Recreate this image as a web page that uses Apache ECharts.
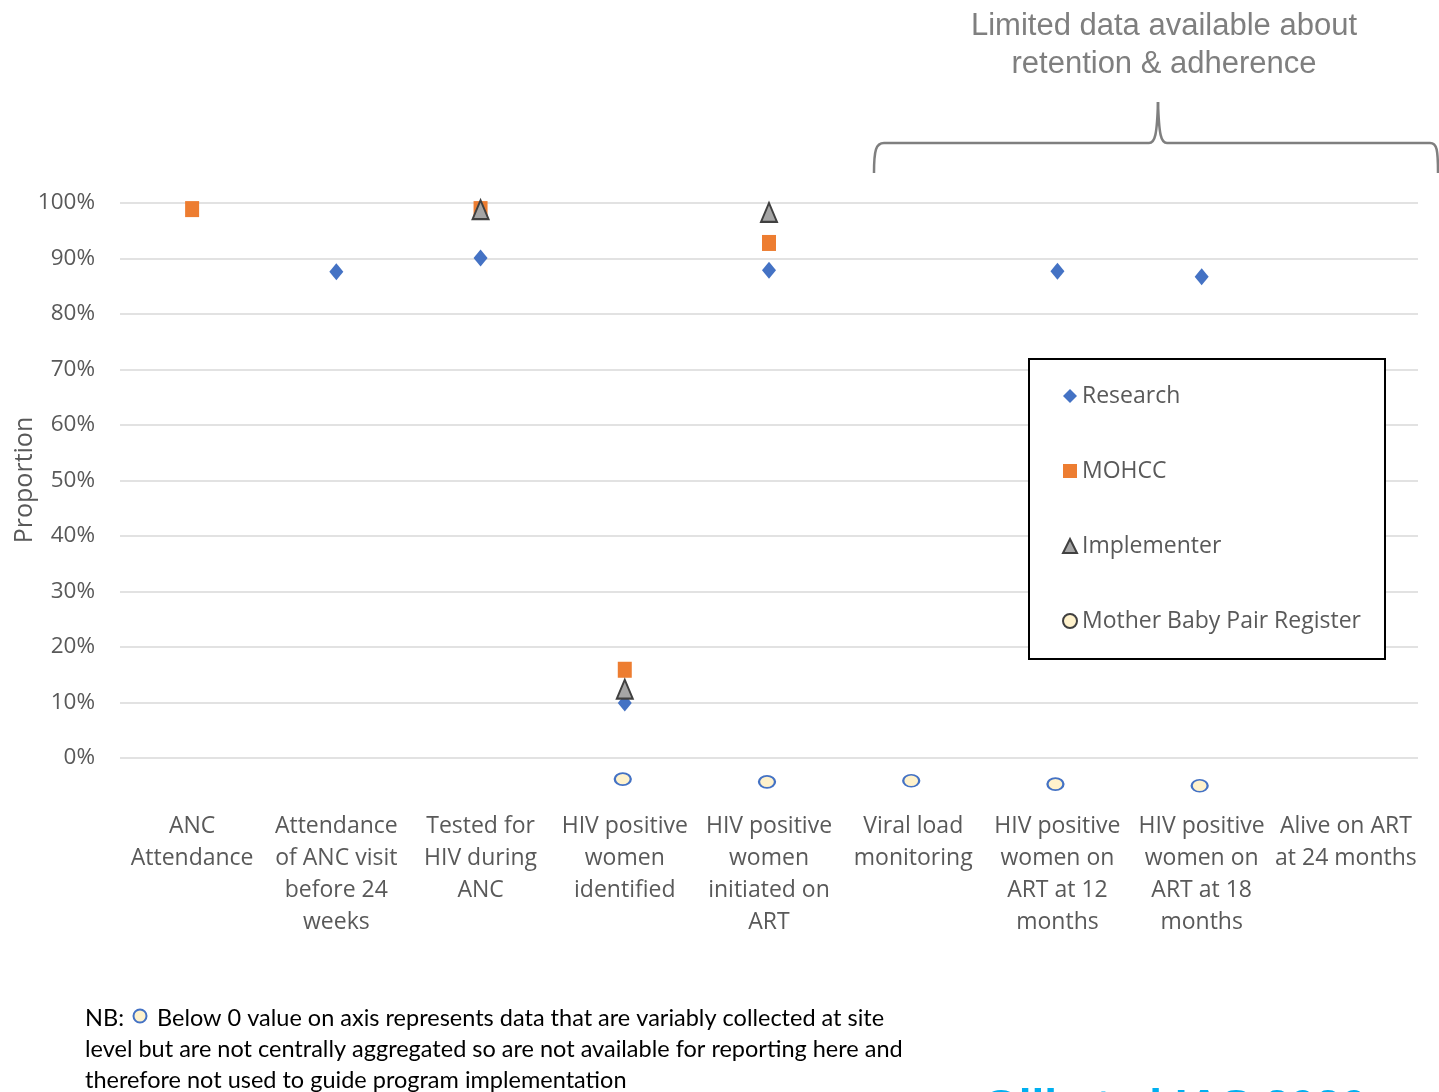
<!DOCTYPE html>
<html>
<head>
<meta charset="utf-8">
<script src="https://cdn.jsdelivr.net/npm/echarts@6/dist/echarts.min.js"></script>
<style>
  html, body { margin: 0; padding: 0; background: #ffffff; }
  #chart { width: 1439px; height: 1092px; }
</style>
</head>
<body>
<div id="chart"></div>
<script>
// PMTCT cascade steps (x axis)
const categories = [
  'ANC\nAttendance',
  'Attendance\nof ANC visit\nbefore 24\nweeks',
  'Tested for\nHIV during\nANC',
  'HIV positive\nwomen\nidentified',
  'HIV positive\nwomen\ninitiated on\nART',
  'Viral load\nmonitoring',
  'HIV positive\nwomen on\nART at 12\nmonths',
  'HIV positive\nwomen on\nART at 18\nmonths',
  'Alive on ART\nat 24 months'
];

// Proportions (%) by data source; below-zero values flag data not centrally aggregated
const research    = [null, 87.6, 90.1, 9.9, 87.9, null, 87.7, 86.7, null];
const mohcc       = [98.9, null, 98.9, 15.9, 92.8, null, null, null, null];
const implementer = [null, null, 98.8, 12.4, 98.3, null, null, null, null];
const mbpr        = [null, null, null, -3.8, -4.3, -4.1, -4.7, -5.0, null];

const yTicks = [-10, 0, 10, 20, 30, 40, 50, 60, 70, 80, 90, 100];

const FONT = 'Open Sans';
const GREY_TEXT = '#595959';

const chart = echarts.init(document.getElementById('chart'), null, { renderer: 'canvas' });

// grid line colours: hide the line at the lowest (-10) tick
const gridColors = yTicks.map(v => v < 0 ? 'rgba(0,0,0,0)' : '#d9d9d9');

const braceStyle = { fill: 'none', stroke: '#7f7f7f', lineWidth: 2.5 };
const curve = (x1, y1, cpx1, cpy1, cpx2, cpy2, x2, y2) => ({
  type: 'bezierCurve',
  shape: { x1, y1, cpx1, cpy1, cpx2, cpy2, x2, y2 },
  style: braceStyle
});
const seg = (x1, y1, x2, y2) => ({ type: 'line', shape: { x1, y1, x2, y2 }, style: braceStyle });

const NOTE_FONT = { fontFamily: 'Lato', fontSize: 23.5, fill: '#000000' };

chart.setOption({
  animation: false,
  backgroundColor: '#ffffff',
  grid: { left: 120, right: 21, top: 203, bottom: 278.5, containLabel: false },
  xAxis: {
    type: 'category',
    data: categories,
    boundaryGap: true,
    axisLine: { show: false },
    axisTick: { show: false },
    axisLabel: {
      interval: 0,
      margin: -3,
      fontFamily: FONT,
      fontSize: 23,
      lineHeight: 32,
      color: GREY_TEXT,
      align: 'center',
      verticalAlign: 'top'
    }
  },
  yAxis: {
    type: 'value',
    min: -10,
    max: 100,
    interval: 10,
    axisLine: { show: false },
    axisTick: { show: false },
    axisLabel: {
      margin: 25,
      fontFamily: FONT,
      fontSize: 22.5,
      color: GREY_TEXT,
      formatter: v => (v < 0 ? '' : v + '%')
    },
    splitLine: { show: true, lineStyle: { color: gridColors, width: 1.5 } }
  },
  legend: {
    orient: 'vertical',
    left: 1029,
    top: 359,
    padding: [25, 24, 26, 33],
    itemGap: 51,
    itemWidth: 14,
    itemHeight: 14,
    borderColor: '#000000',
    borderWidth: 2,
    backgroundColor: '#ffffff',
    textStyle: { fontFamily: FONT, fontSize: 23, lineHeight: 24, color: GREY_TEXT },
    data: [
      { name: 'Research', icon: 'diamond', itemStyle: { color: '#4472c4', borderWidth: 0 } },
      { name: 'MOHCC', icon: 'rect', itemStyle: { color: '#ed7d31', borderWidth: 0 } },
      { name: 'Implementer', icon: 'triangle', itemStyle: { color: '#a5a5a5', borderColor: '#404040', borderWidth: 2 } },
      { name: 'Mother Baby Pair Register', icon: 'circle', itemStyle: { color: '#fff2cc', borderColor: '#404040', borderWidth: 2 } }
    ]
  },
  series: [
    {
      name: 'Research', type: 'scatter', data: research,
      symbol: 'diamond', symbolSize: [14, 17],
      itemStyle: { color: '#4472c4', opacity: 1 }
    },
    {
      name: 'MOHCC', type: 'scatter', data: mohcc,
      symbol: 'rect', symbolSize: [14, 16],
      itemStyle: { color: '#ed7d31', opacity: 1 }
    },
    {
      name: 'Implementer', type: 'scatter', data: implementer,
      symbol: 'triangle', symbolSize: [16, 19],
      itemStyle: { color: '#a5a5a5', borderColor: '#404040', borderWidth: 2, opacity: 1 }
    },
    {
      name: 'Mother Baby Pair Register', type: 'scatter', data: mbpr,
      symbol: 'circle', symbolSize: [16, 12], symbolOffset: [-2, 0],
      itemStyle: { color: '#fff2cc', borderColor: '#4472c4', borderWidth: 2, opacity: 1 }
    }
  ],
  graphic: [
    // y axis title, centred on the 0–100% range
    {
      type: 'text',
      x: 25,
      y: 480,
      rotation: Math.PI / 2,
      style: {
        text: 'Proportion',
        align: 'center',
        verticalAlign: 'middle',
        fontFamily: FONT,
        fontSize: 25,
        fill: GREY_TEXT
      }
    },
    // bracket over the retention/adherence steps
    curve(874, 173, 874, 150, 876, 143, 884, 143),
    seg(884, 143, 1149, 143),
    curve(1149, 143, 1155, 143, 1157, 135, 1158, 102),
    curve(1158, 102, 1159, 135, 1161, 143, 1167, 143),
    seg(1167, 143, 1430, 143),
    curve(1430, 143, 1437, 143, 1438, 150, 1438, 173),
    {
      type: 'text',
      x: 1164,
      y: 7,
      style: {
        text: 'Limited data available about\nretention & adherence',
        align: 'center',
        verticalAlign: 'top',
        fontFamily: 'Liberation Sans',
        fontSize: 31,
        lineHeight: 38,
        fill: '#7f7f7f'
      }
    },
    // footnote
    {
      type: 'circle',
      shape: { cx: 140, cy: 1016, r: 6.5 },
      style: { fill: '#fff2cc', stroke: '#4472c4', lineWidth: 2 }
    },
    {
      type: 'text',
      x: 85,
      y: 1018,
      style: Object.assign({ text: 'NB:', verticalAlign: 'middle' }, NOTE_FONT)
    },
    {
      type: 'text',
      x: 157,
      y: 1018,
      style: Object.assign({
        text: 'Below 0 value on axis represents data that are variably collected at site',
        verticalAlign: 'middle'
      }, NOTE_FONT)
    },
    {
      type: 'text',
      x: 85,
      y: 1033.5,
      style: Object.assign({
        text: 'level but are not centrally aggregated so are not available for reporting here and\ntherefore not used to guide program implementation',
        verticalAlign: 'top',
        lineHeight: 31
      }, NOTE_FONT)
    },
    {
      type: 'text',
      x: 983,
      y: 1086,
      style: {
        text: 'Gill et al IAS 2020',
        verticalAlign: 'top',
        fontFamily: 'Liberation Sans',
        fontSize: 46,
        fontWeight: 'bold',
        fill: '#00b0f0'
      }
    }
  ]
});
</script>
</body>
</html>
